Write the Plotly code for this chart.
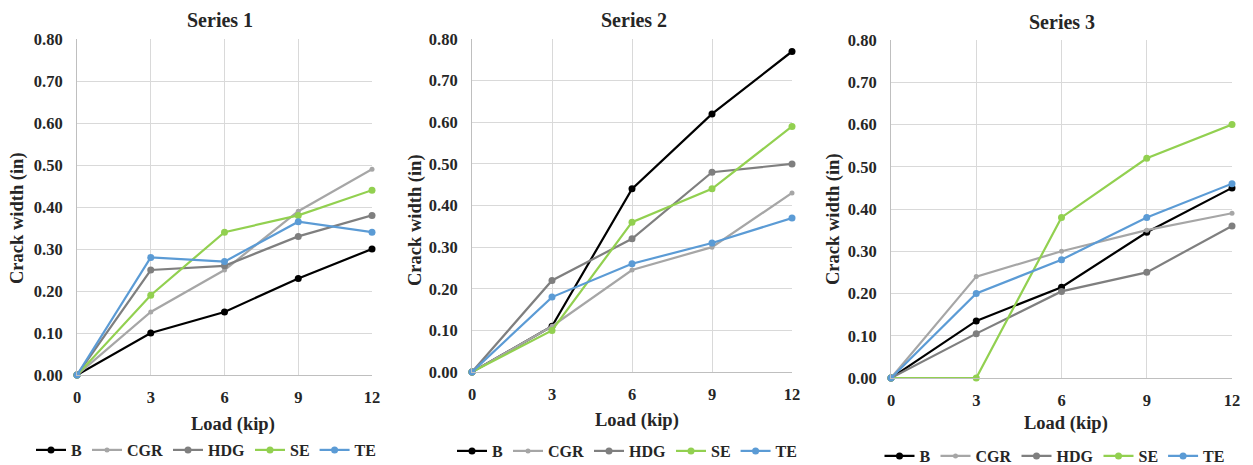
import plotly.graph_objects as go

loads = [0, 3, 6, 9, 12]
names = ["B", "CGR", "HDG", "SE", "TE"]
colors = {"B": "#000000", "CGR": "#A6A6A6", "HDG": "#7F7F7F", "SE": "#92D050", "TE": "#5B9BD5"}
titles = ["Series 1", "Series 2", "Series 3"]
x_title = "Load (kip)"
y_title = "Crack width (in)"

s1_B = [0, 0.10, 0.15, 0.23, 0.30]
s1_CGR = [0, 0.15, 0.25, 0.39, 0.49]
s1_HDG = [0, 0.25, 0.26, 0.33, 0.38]
s1_SE = [0, 0.19, 0.34, 0.38, 0.44]
s1_TE = [0, 0.28, 0.27, 0.365, 0.34]

s2_B = [0, 0.11, 0.44, 0.62, 0.77]
s2_CGR = [0, 0.11, 0.245, 0.30, 0.43]
s2_HDG = [0, 0.22, 0.32, 0.48, 0.50]
s2_SE = [0, 0.10, 0.36, 0.44, 0.59]
s2_TE = [0, 0.18, 0.26, 0.31, 0.37]

s3_B = [0, 0.135, 0.215, 0.345, 0.45]
s3_CGR = [0, 0.24, 0.30, 0.35, 0.39]
s3_HDG = [0, 0.105, 0.205, 0.25, 0.36]
s3_SE = [0, 0.0, 0.38, 0.52, 0.60]
s3_TE = [0, 0.20, 0.28, 0.38, 0.46]

series = [
    {"B": s1_B, "CGR": s1_CGR, "HDG": s1_HDG, "SE": s1_SE, "TE": s1_TE},
    {"B": s2_B, "CGR": s2_CGR, "HDG": s2_HDG, "SE": s2_SE, "TE": s2_TE},
    {"B": s3_B, "CGR": s3_CGR, "HDG": s3_HDG, "SE": s3_SE, "TE": s3_TE},
]

W, H = 1253, 465
# layout positions in pixels
boxes = [(77, 372, 39, 375), (472, 792, 39, 372), (891, 1232, 40, 378)]  # plot areas l, r, t, b
title_pos = [(219.5, 20), (634, 20), (1062, 22)]
xtitle_pos = [(233, 424), (637, 420), (1066, 423)]
ytitle_pos = [(18, 218), (415, 220), (833, 219)]
legend_pos = [(206, 450), (627, 451), (1054.5, 456)]
font = "Liberation Serif, Times New Roman, serif"
txt = "#262626"

fig = go.Figure()
for i, data in enumerate(series):
    ax = "" if i == 0 else str(i + 1)
    leg = "legend" if i == 0 else f"legend{i+1}"
    for n in names:
        fig.add_trace(go.Scatter(
            x=loads, y=data[n], name=n, mode="lines+markers",
            line=dict(color=colors[n], width=2.2),
            marker=dict(color=colors[n], size=5 if n == "CGR" else 7),
            xaxis="x" + ax, yaxis="y" + ax, legend=leg, cliponaxis=False,
        ))

layout = dict(
    width=W, height=H, margin=dict(l=0, r=0, t=0, b=0, autoexpand=False),
    paper_bgcolor="white", plot_bgcolor="white",
    font=dict(family=font, color=txt),
    annotations=[],
)


def ann(text, px, py, size, angle=0):
    return dict(
        text="<b>" + text + "</b>", x=px / W, y=1 - py / H,
        xref="paper", yref="paper", showarrow=False, xanchor="center", yanchor="middle",
        textangle=angle, font=dict(family=font, size=size, color=txt),
    )


for i, (l, r, t, b) in enumerate(boxes):
    ax = "" if i == 0 else str(i + 1)
    xd = [l / W, r / W]
    yd = [1 - b / H, 1 - t / H]
    layout["xaxis" + ax] = dict(
        domain=xd, range=[0, 12], tickvals=loads, ticktext=[str(v) for v in loads],
        showgrid=True, gridcolor="#D9D9D9", gridwidth=1,
        showline=True, linecolor="#BFBFBF", linewidth=1, zeroline=False,
        ticks="", ticklabelstandoff=7, automargin=False,
        tickfont=dict(family=font, size=16.5, color=txt, weight="bold"),
        anchor="y" + ax,
    )
    layout["yaxis" + ax] = dict(
        domain=yd, range=[0, 0.8], dtick=0.1, tickformat=".2f",
        showgrid=True, gridcolor="#D9D9D9", gridwidth=1,
        showline=True, linecolor="#BFBFBF", linewidth=1, zeroline=False,
        ticks="", ticklabelstandoff=10, automargin=False,
        tickfont=dict(family=font, size=16.5, color=txt, weight="bold"),
        anchor="x" + ax,
    )
    layout["annotations"].append(ann(titles[i], *title_pos[i], 20))
    layout["annotations"].append(ann(x_title, *xtitle_pos[i], 18.5))
    layout["annotations"].append(ann(y_title, *ytitle_pos[i], 18.5, angle=-90))
    leg = "legend" if i == 0 else f"legend{i+1}"
    layout[leg] = dict(
        orientation="h", x=legend_pos[i][0] / W, xanchor="center",
        y=1 - legend_pos[i][1] / H, yanchor="middle", xref="paper", yref="paper",
        font=dict(family=font, size=16, color=txt, weight="bold"),
        itemwidth=30, tracegroupgap=0, bgcolor="rgba(0,0,0,0)",
    )

fig.update_layout(**layout)
fig.write_html(
    "out.html",
    config={"displayModeBar": False},
    post_script="document.body.style.margin='0px';document.body.style.overflow='hidden';",
)
